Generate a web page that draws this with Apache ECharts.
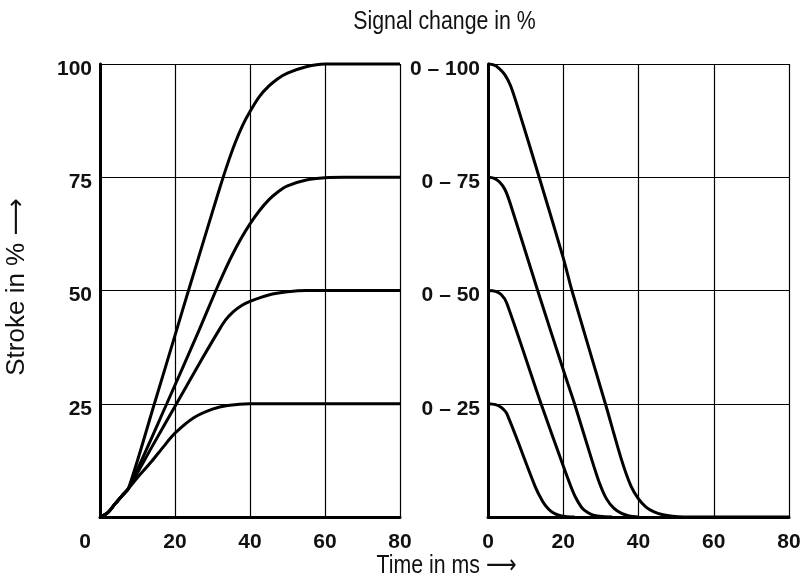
<!DOCTYPE html>
<html>
<head>
<meta charset="utf-8">
<title>Stroke response</title>
<script src="https://cdn.jsdelivr.net/npm/echarts@6/dist/echarts.min.js"></script>
<style>
  html, body { margin: 0; padding: 0; background: #fff; }
  #chart { width: 805px; height: 576px; }
</style>
</head>
<body>
<div id="chart"></div>
<script>
// Stroke (%) over time (ms) when the signal steps up: one curve per signal range
const rise25  = [[0,0],[2,0.9],[4,2.9],[6,4.8],[7.6,6.3],[10,8.7],[13.8,12.3],[17,15.6],[20,18.5],[25,21.9],[30,23.8],[34,24.6],[40,25],[80,25]];
const rise50  = [[0,0],[2,0.9],[4,2.9],[6,4.8],[7.6,6.3],[14,15.7],[20.4,25],[27,34.6],[31.7,41.2],[33.5,43.5],[35.5,45.3],[38,46.8],[40,47.6],[45,49],[50,49.7],[55,50],[80,50]];
const rise75  = [[0,0],[2,0.9],[4,2.9],[6,4.8],[7.6,6.3],[17.8,25],[26.4,41.2],[30.9,50],[33,53.9],[35,57.4],[37.5,61.3],[40,64.7],[42.5,67.6],[45,70],[47.5,71.8],[50,73.1],[55,74.4],[60,74.9],[65,75],[80,75]];
const rise100 = [[0,0],[2,0.9],[4,2.9],[6,4.8],[7.6,6.3],[14.5,25],[20.4,41.2],[23.6,50],[30,67.4],[32,72.8],[34,77.9],[36,82.5],[38,86.4],[40,89.5],[42.5,92.8],[45,95.1],[47.5,96.8],[50,98],[55,99.4],[60,100],[80,100]];

// Stroke (%) over time (ms) when the signal steps back down to 0
const fall25  = [[0,25],[2,24.8],[3.5,24.2],[5,22.8],[12.6,6.6],[14.5,3.5],[16,1.8],[17.2,1],[18.6,0.45],[20.5,0.1],[23,0]];
const fall50  = [[0,50],[2,49.8],[3.5,49.1],[5,47.2],[14.1,25],[19.6,12.2],[22,6.8],[23.3,4.3],[25,2],[26.5,1],[28,0.4],[30.5,0.1],[33,0]];
const fall75  = [[0,75],[1.5,74.8],[3,74],[4.5,72.3],[6,69],[13.2,50],[20,32.5],[23,25],[27,14.2],[29.5,7.8],[31.5,4],[33.5,1.9],[35.5,0.8],[37.5,0.25],[40,0]];
const fall100 = [[0,100],[1.5,99.8],[3,99],[4.5,97.6],[6,95.2],[8,90.2],[13.6,75],[20,57.2],[22.3,50],[31.2,25],[35.5,12.6],[38,6.8],[40,4],[42,2.2],[44,1.2],[46.5,0.5],[49,0.15],[52,0],[80,0]];

const stepValues = [25, 50, 75, 100];
const rangeLabels = ['0 – 25', '0 – 50', '0 – 75', '0 – 100'];

const TXT = '#111';
const labelFont = '"Liberation Sans", Arial, sans-serif';
const titleFont = '"Liberation Sans", "DejaVu Sans", sans-serif';

function xAxisFor(gridIndex, shiftZero) {
  return {
    type: 'value', gridIndex: gridIndex, min: 0, max: 80, interval: 20,
    axisLine: { show: true, onZero: false, lineStyle: { color: '#000', width: 3 } },
    axisTick: { show: false },
    splitLine: { show: true, lineStyle: { color: '#000', width: 1.2 } },
    axisLabel: {
      margin: 15, color: TXT, fontSize: 21, fontWeight: 'bold', fontFamily: labelFont,
      formatter: function (v) { return (shiftZero && v === 0) ? '{zero|0}' : String(v); },
      rich: { zero: { padding: [0, 30, 0, 0], color: TXT, fontSize: 21, fontWeight: 'bold', fontFamily: labelFont } }
    }
  };
}

function yAxisFor(gridIndex, fmt) {
  return {
    type: 'value', gridIndex: gridIndex, min: 0, max: 100, interval: 25,
    axisLine: { show: true, onZero: false, lineStyle: { color: '#000', width: 3 } },
    axisTick: { show: false },
    splitLine: { show: true, lineStyle: { color: '#000', width: 1.2 } },
    axisLabel: {
      margin: 8, color: TXT, fontSize: 21, fontWeight: 'bold', fontFamily: labelFont,
      verticalAlign: 'top', lineHeight: 10,
      formatter: fmt
    }
  };
}

function curve(data, xi, yi) {
  return {
    type: 'line', xAxisIndex: xi, yAxisIndex: yi, data: data,
    showSymbol: false, smooth: 0.3, clip: false,
    lineStyle: { color: '#000', width: 3 }, silent: true, z: 5
  };
}

function caption(text, x, y, size, sx, rot) {
  return {
    type: 'text', x: x, y: y, rotation: rot || 0, scaleX: sx, scaleY: 1,
    style: { text: text, fill: TXT, fontSize: size, fontFamily: titleFont,
             align: 'center', verticalAlign: 'middle', textAlign: 'center', textVerticalAlign: 'middle' }
  };
}

const chart = echarts.init(document.getElementById('chart'), null, { renderer: 'canvas' });
chart.setOption({
  animation: false,
  backgroundColor: '#fff',
  grid: [
    { left: 100, top: 64, width: 300, height: 453 },
    { left: 488, top: 64, width: 301, height: 453 }
  ],
  xAxis: [xAxisFor(0, true), xAxisFor(1, false)],
  yAxis: [
    yAxisFor(0, function (v) { return v === 0 ? '' : String(v); }),
    yAxisFor(1, function (v) { const i = stepValues.indexOf(v); return i < 0 ? '' : rangeLabels[i]; })
  ],
  series: [
    curve(rise25, 0, 0), curve(rise50, 0, 0), curve(rise75, 0, 0), curve(rise100, 0, 0),
    curve(fall25, 1, 1), curve(fall50, 1, 1), curve(fall75, 1, 1), curve(fall100, 1, 1)
  ],
  graphic: [
    caption('Signal change in %', 444.5, 22, 26, 0.82),
    caption('Time in ms ⟶', 446.5, 566, 26, 0.82),
    caption('Stroke in % ⟶', 17, 287, 26, 1, Math.PI / 2)
  ]
});
</script>
</body>
</html>
